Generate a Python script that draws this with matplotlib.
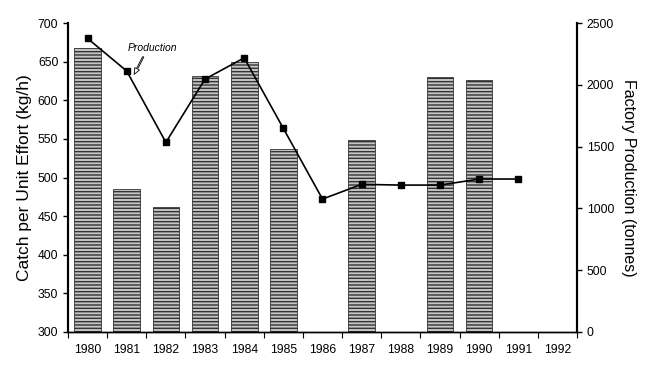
import numpy as np
import matplotlib.pyplot as plt

plt.rcParams['font.family'] = ['Liberation Sans', 'DejaVu Sans']

# Data
years = ['1980', '1981', '1982', '1983', '1984', '1985', '1986',
         '1987', '1988', '1989', '1990', '1991', '1992']
cpue = [668, 485, 462, 632, 650, 537, np.nan, 549, np.nan, 630, 626, np.nan, np.nan]
production = [2376, 2112, 1535, 2047, 2219, 1648, 1076, 1195, 1189, 1189, 1238, 1238, np.nan]

x = np.arange(len(years))

fig = plt.figure(figsize=(6.5, 3.67), dpi=100)
ax = fig.add_axes([0.1046, 0.0954, 0.7831, 0.8416])
ax2 = ax.twinx()

# bars (CPUE) on the left axis
bar_h = [v - 300 if not np.isnan(v) else 0 for v in cpue]
ax.bar(x, bar_h, bottom=300, width=0.68, color='#c4c4c4', edgecolor='#333333',
       hatch='-----', linewidth=0.6)
ax.set_ylim(300, 700)
ax.set_xlim(-0.5, len(years) - 0.5)
ax.set_yticks(np.arange(300, 701, 50))
ax.set_ylabel('Catch per Unit Effort (kg/h)', fontsize=12.5, labelpad=4)

# x ticks: labels at the centres, tick marks between categories
ax.set_xticks(x)
ax.set_xticklabels(years)
ax.set_xticks(np.arange(-0.5, len(years)), minor=True)
ax.tick_params(axis='x', which='major', length=0, pad=9, labelsize=8.7)
ax.tick_params(axis='x', which='minor', length=4, width=0.8)
ax.tick_params(axis='y', length=3.5, width=1, labelsize=8.7)

# production line on the right axis
ax2.plot(x, production, color='black', linewidth=1.2, marker='s', markersize=5)
ax2.set_ylim(0, 2500)
ax2.set_yticks(np.arange(0, 2501, 500))
ax2.tick_params(axis='y', length=3.5, width=1, labelsize=8.7)
ax2.set_ylabel('Factory Production (tonnes)', fontsize=11.5, rotation=-90, labelpad=16)

ax2.annotate('Production', xy=(x[1] + 0.19, 2085),
             xytext=(x[1] + 0.02, 2300), fontsize=7.5, style='italic', va='center',
             arrowprops=dict(arrowstyle='simple,head_width=0.5,head_length=0.6,tail_width=0.12',
                             fc='white', ec='black', lw=0.6, relpos=(0.36, 0.0),
                             shrinkA=1, shrinkB=0))

for a in (ax, ax2):
    a.spines['top'].set_visible(False)
    a.spines['left'].set_linewidth(1.5)
    a.spines['right'].set_linewidth(1.5)
    a.spines['bottom'].set_linewidth(1)

fig.savefig('out.png', dpi=100)
